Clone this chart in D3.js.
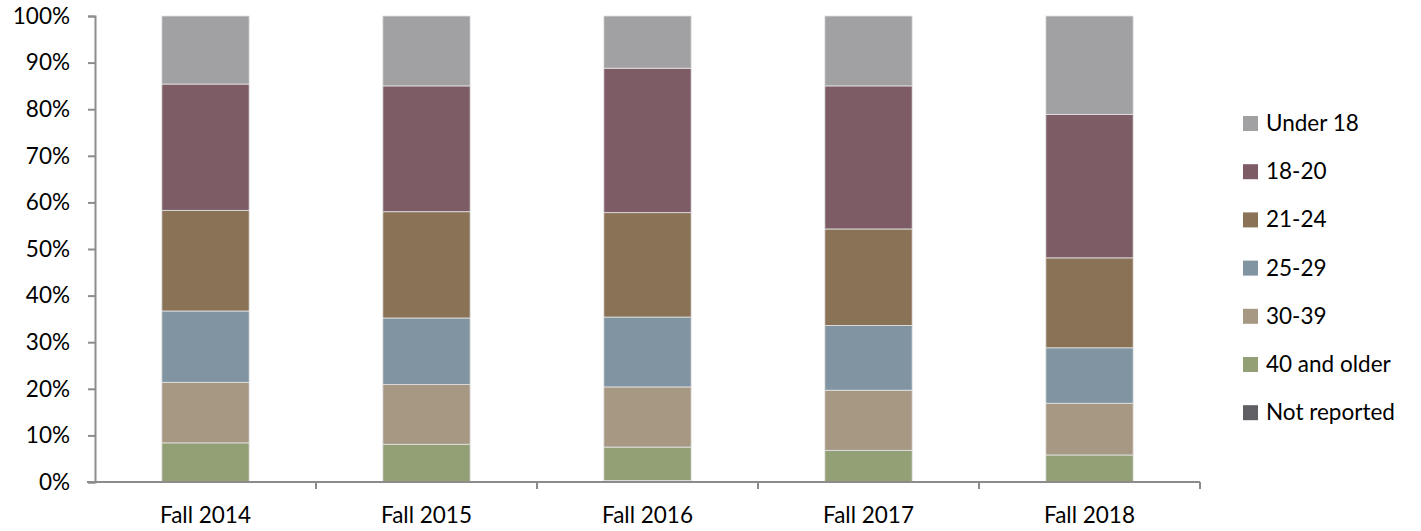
<!DOCTYPE html>
<html>
<head>
<meta charset="utf-8">
<script src="https://cdn.jsdelivr.net/npm/d3@7"></script>
<style>
  html, body { margin: 0; padding: 0; background: #fff; }
  svg { display: block; }
  text { font-family: Lato, "Open Sans", sans-serif; fill: #000; }
</style>
</head>
<body>
<svg id="chart" width="1421" height="531"></svg>
<script>
const categories = ["Fall 2014", "Fall 2015", "Fall 2016", "Fall 2017", "Fall 2018"];
// stacked bottom -> top
const seriesNames = ["Not reported", "40 and older", "30-39", "25-29", "21-24", "18-20", "Under 18"];
const notReported = [0.1, 0.1, 0.3, 0.1, 0.1];
const age40plus   = [8.3, 8.0, 7.2, 6.7, 5.7];
const age30_39    = [13.0, 12.8, 12.9, 12.9, 11.1];
const age25_29    = [15.3, 14.3, 15.0, 13.9, 11.9];
const age21_24    = [21.6, 22.8, 22.4, 20.7, 19.3];
const age18_20    = [27.1, 27.0, 31.0, 30.7, 30.8];
const under18     = [14.6, 15.0, 11.2, 15.0, 21.1];
const tickLabels = ["0%", "10%", "20%", "30%", "40%", "50%", "60%", "70%", "80%", "90%", "100%"];

const seriesValues = [notReported, age40plus, age30_39, age25_29, age21_24, age18_20, under18];
const colors = ["#5F5F64", "#93A076", "#A79884", "#8194A1", "#8A7257", "#7D5C66", "#A1A1A3"];

const svg = d3.select("#chart");
const mLeft = 95, mRight = 1200, mTop = 16, mBottom = 482;
const fontSize = "22.5px";

const x = d3.scaleBand().domain(categories).range([mLeft, mRight]).paddingInner(0.605).paddingOuter(0.3025);
const y = d3.scaleLinear().domain([0, 100]).range([mBottom, mTop]);

const rows = categories.map((c, i) => {
  const r = { cat: c };
  seriesNames.forEach((s, j) => r[s] = seriesValues[j][i]);
  return r;
});
const stack = d3.stack().keys(seriesNames)(rows);

const g = svg.append("g");
stack.forEach((layer, j) => {
  g.selectAll(null).data(layer).enter().append("rect")
    .attr("x", d => x(d.data.cat))
    .attr("width", x.bandwidth())
    .attr("y", d => y(d[1]))
    .attr("height", d => y(d[0]) - y(d[1]))
    .attr("fill", colors[j])
    .attr("stroke", "#e4e4e4")
    .attr("stroke-width", 0.8);
});

// Y axis
const yAxis = d3.axisLeft(y).tickValues(d3.range(0, 101, 10))
  .tickFormat((d, i) => tickLabels[i]).tickSize(7).tickPadding(18);
const ya = svg.append("g").attr("transform", `translate(${mLeft},0)`).call(yAxis);
ya.select(".domain").attr("stroke", "#8c8c8c").attr("stroke-width", 2);
ya.selectAll(".tick line").attr("stroke", "#8c8c8c").attr("stroke-width", 2);
ya.selectAll("text").style("font-size", fontSize).style("font-family", "Lato, sans-serif").attr("fill", "#000");

// X axis
const xa = svg.append("g").attr("transform", `translate(0,${mBottom})`);
xa.append("line").attr("x1", mLeft - 8).attr("x2", mRight).attr("y1", 0).attr("y2", 0)
  .attr("stroke", "#8c8c8c").attr("stroke-width", 2);
const boundaries = categories.map(c => x(c) - x.step() * x.paddingInner() / 2).concat([mRight]);
xa.selectAll(".bt").data(boundaries.slice(1)).enter().append("line")
  .attr("x1", d => d).attr("x2", d => d).attr("y1", 0).attr("y2", 7)
  .attr("stroke", "#8c8c8c").attr("stroke-width", 2);
xa.selectAll(".lbl").data(categories).enter().append("text")
  .attr("x", d => x(d) + x.bandwidth() / 2).attr("y", 41)
  .attr("text-anchor", "middle").style("font-size", fontSize).text(d => d);

// Legend (top to bottom: Under 18 ... Not reported)
const legendItems = seriesNames.map((s, j) => ({ name: s, color: colors[j] })).reverse();
const lg = svg.append("g").attr("transform", "translate(1243,0)");
legendItems.forEach((it, i) => {
  const cy = 123.5 + i * 48.2;
  lg.append("rect").attr("x", 0).attr("y", cy - 7.5).attr("width", 15).attr("height", 15).attr("fill", it.color);
  lg.append("text").attr("x", 23).attr("y", cy + 7.5).style("font-size", fontSize).text(it.name);
});
</script>
</body>
</html>
